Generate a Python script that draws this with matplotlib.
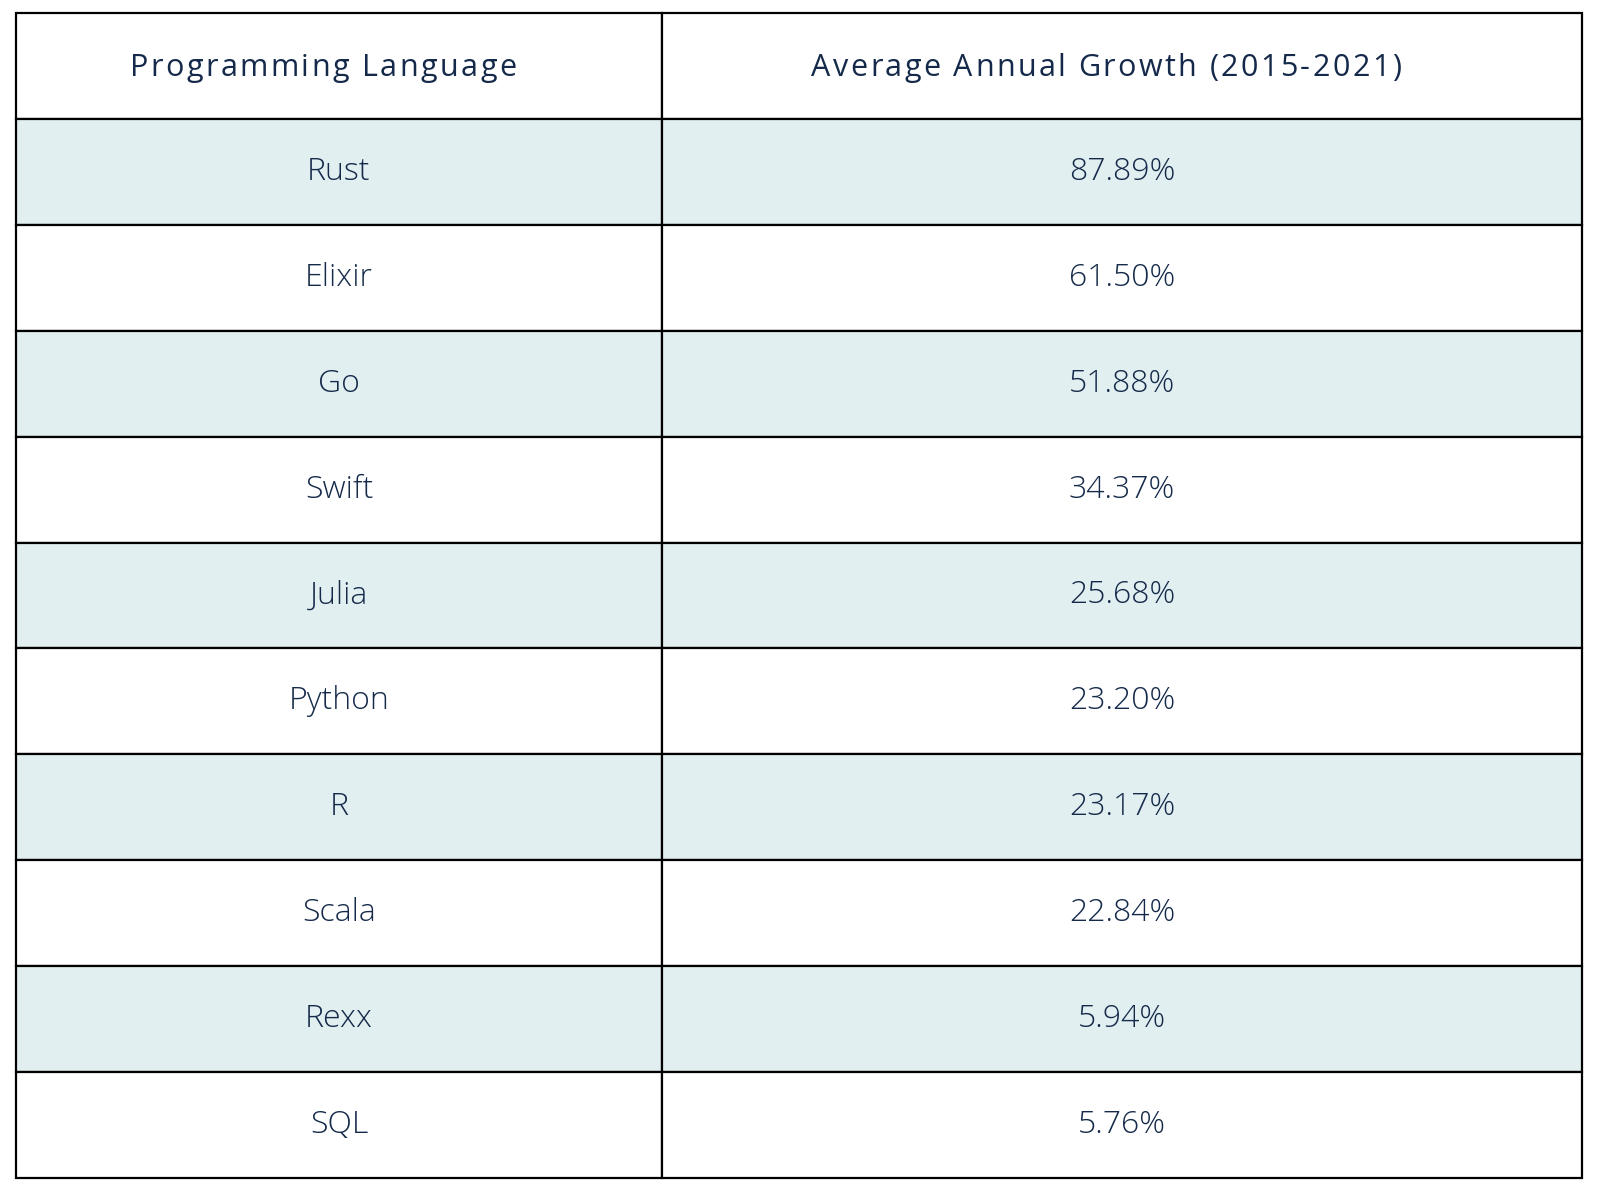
import matplotlib
matplotlib.use("Agg")
import matplotlib.pyplot as plt

languages = ["Rust", "Elixir", "Go", "Swift", "Julia", "Python", "R", "Scala", "Rexx", "SQL"]
growth = [87.89, 61.50, 51.88, 34.37, 25.68, 23.20, 23.17, 22.84, 5.94, 5.76]
headers = ["Programming Language", "Average Annual Growth (2015-2021)"]

W, H = 1598, 1198
TEXT = "#152a4a"
SHADE = "#e1eff0"
FONT = ["Open Sans", "DejaVu Sans"]

plt.rcParams["font.family"] = FONT

fig = plt.figure(figsize=(W / 100, H / 100), dpi=100)
ax = fig.add_axes([0, 0, 1, 1])
ax.set_xlim(0, W)
ax.set_ylim(H, 0)
ax.axis("off")

left, right, top, bottom = 16, 1582, 13, 1178
split = 662
rows = [[lang, f"{g:.2f}%"] for lang, g in zip(languages, growth)]
tbl = ax.table(cellText=rows, colLabels=["", ""], cellLoc="center",
               colWidths=[(split - left) / (right - left), (right - split) / (right - left)],
               bbox=[left / W, 1 - bottom / H, (right - left) / W, (bottom - top) / H])
tbl.auto_set_font_size(False)
tbl.set_fontsize(23)

for (r, c), cell in tbl.get_celld().items():
    cell.set_edgecolor("black")
    cell.set_linewidth(1.6)
    cell.get_text().set_color(TEXT)
    cell.get_text().set_fontweight("light")
    if r == 0:
        cell.set_facecolor("white")
    else:
        cell.set_facecolor(SHADE if r % 2 == 1 else "white")

# header text with letter spacing (tracking), placed char by char
renderer = fig.canvas.get_renderer()
row_h = (bottom - top) / (len(rows) + 1)
header_y = top + row_h / 2 + 2
hsize = 22
tracking = 2.4  # px between letters
shift = -16     # the original headers sit a little left of centre
for label, cx in zip(headers, [(left + split) / 2, (split + right) / 2]):
    chars, widths = [], []
    for ch in label:
        t = ax.text(0, header_y, ch, fontsize=hsize, color=TEXT, va="center", ha="left")
        w = 0.26 * hsize * 100 / 72 if ch == " " else t.get_window_extent(renderer).width
        chars.append(t)
        widths.append(w)
    total = sum(widths) + tracking * (len(label) - 1)
    x = cx + shift - total / 2
    for t, w in zip(chars, widths):
        t.set_x(x)
        x += w + tracking

fig.savefig("out.png", dpi=100)
